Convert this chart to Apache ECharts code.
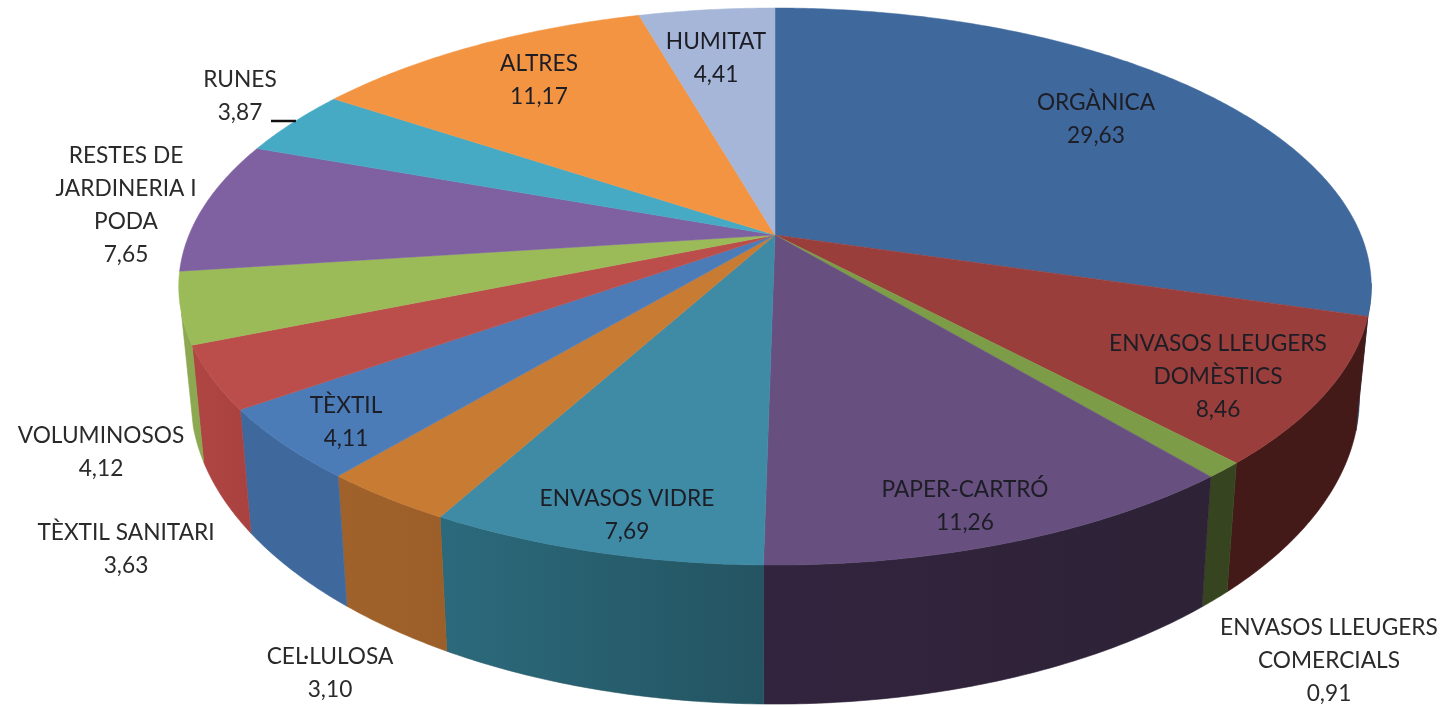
<!DOCTYPE html>
<html><head><meta charset="utf-8">
<style>html,body{margin:0;padding:0;background:#fff}#c{width:1442px;height:707px}</style>
<script src="https://cdn.jsdelivr.net/npm/echarts@6/dist/echarts.min.js"></script>
</head><body><div id="c"></div>
<script>
const categories = ['ORGÀNICA','ENVASOS LLEUGERS\nDOMÈSTICS','ENVASOS LLEUGERS\nCOMERCIALS','PAPER-CARTRÓ','ENVASOS VIDRE','CEL·LULOSA','TÈXTIL','TÈXTIL SANITARI','VOLUMINOSOS','RESTES DE\nJARDINERIA I\nPODA','RUNES','ALTRES','HUMITAT'];
const values = [29.63,8.46,0.91,11.26,7.69,3.10,4.11,3.63,4.12,7.65,3.87,11.17,4.41];
const valueLabels = ['29,63','8,46','0,91','11,26','7,69','3,10','4,11','3,63','4,12','7,65','3,87','11,17','4,41'];
const topColors = ['#3F689C','#9A3E3C','#7C9C47','#67507F','#3F8AA5','#C87B33','#4B7CB8','#BB4E4B','#9BBB59','#7F60A0','#46AAC5','#F39443','#A5B6D8'];
const wallColors = [['#2C4A70','#2C4A70'],['#431A18','#431A18'],['#36451F','#36451F'],['#2D2236','#32243E'],['#245462','#2B6A7C'],['#9C5F29','#A0622A'],['#3F689C','#3F689C'],['#A8413F','#B04644'],['#8CA850','#8CA850'],['#5F4878','#5F4878'],['#34808F','#34808F'],['#B56F32','#B56F32'],['#7B89A2','#7B89A2']];
// Layout of the labels (block centre in page pixels), kept apart from the data
const labelCentres = [[1096,119],[1218,377],[1329,661],[965,506],[627,515],[330,673],[346,422],[126,549],[101,452],[126,205],[240,96],[539,80],[716,58]];

// Perspective projection of the pie disc
const P = {cx:775, cy:235, R:586, S:269, k:0.185, shrink:0.98, depth:106, grow:0.1, wallFrom:100, wallTo:254};
const total = values.reduce((a,b)=>a+b,0);
const spans = []; { let acc=0; for(const v of values){ spans.push([acc/total*360,(acc+v)/total*360]); acc+=v; } }
function topRim(deg){ const t=deg*Math.PI/180, x=Math.sin(t), y=-Math.cos(t), w=1-P.k*y;
  return [P.cx+P.R*x/w, P.cy+P.S*y/w]; }
function lowRim(deg){ const p=topRim(deg);
  return [P.cx+(p[0]-P.cx)*P.shrink, p[1]+P.depth+P.grow*(p[1]-P.cy)]; }
function arc(fn,a,b){ const n=Math.max(2,Math.ceil(Math.abs(b-a)*2)), o=[]; for(let i=0;i<=n;i++) o.push(fn(a+(b-a)*i/n)); return o; }

const sliceData = spans.map((s,i)=>[s[0],s[1],i]);
function renderWall(params,api){
  const a=Math.max(api.value(0),P.wallFrom), b=Math.min(api.value(1),P.wallTo), i=api.value(2);
  if(b<=a) return null;
  const pts=arc(topRim,a,b).concat(arc(lowRim,a,b).reverse());
  const c=wallColors[i];
  const fill=new echarts.graphic.LinearGradient(1,0,0,0,[{offset:0,color:c[0]},{offset:1,color:c[1]}]);
  return {type:'polygon',shape:{points:pts},style:{fill:fill,stroke:c[0],lineWidth:0.6}};
}
function renderTop(params,api){
  const a=api.value(0), b=api.value(1), i=api.value(2);
  const pts=[[P.cx,P.cy]].concat(arc(topRim,a,b));
  return {type:'polygon',shape:{points:pts},style:{fill:topColors[i],stroke:topColors[i],lineWidth:0.5}};
}
function renderLabel(params,api){
  const i=api.value(2), c=labelCentres[i], inside=[0,1,3,4,6,11,12].includes(i);
  return {type:'text',x:c[0],y:c[1],style:{text:categories[i]+'\n'+valueLabels[i],align:'center',verticalAlign:'middle',
    font:'22.7px Lato',lineHeight:33,fill:inside?'#1d1d26':'#2a2a2a'}};
}
const chart=echarts.init(document.getElementById('c'),null,{renderer:'canvas'});
chart.setOption({
  animation:false, backgroundColor:'#ffffff',
  series:[
    {type:'custom',coordinateSystem:'none',renderItem:renderWall,data:sliceData,z:1,silent:true},
    {type:'custom',coordinateSystem:'none',renderItem:renderTop,data:sliceData,z:2,silent:true},
    {type:'custom',coordinateSystem:'none',renderItem:renderLabel,data:sliceData,z:3,silent:true}
  ],
  graphic:[{type:'line',z:4,silent:true,shape:{x1:271,y1:121,x2:296,y2:121},style:{stroke:'#111',lineWidth:2.5}}]
});
</script></body></html>
